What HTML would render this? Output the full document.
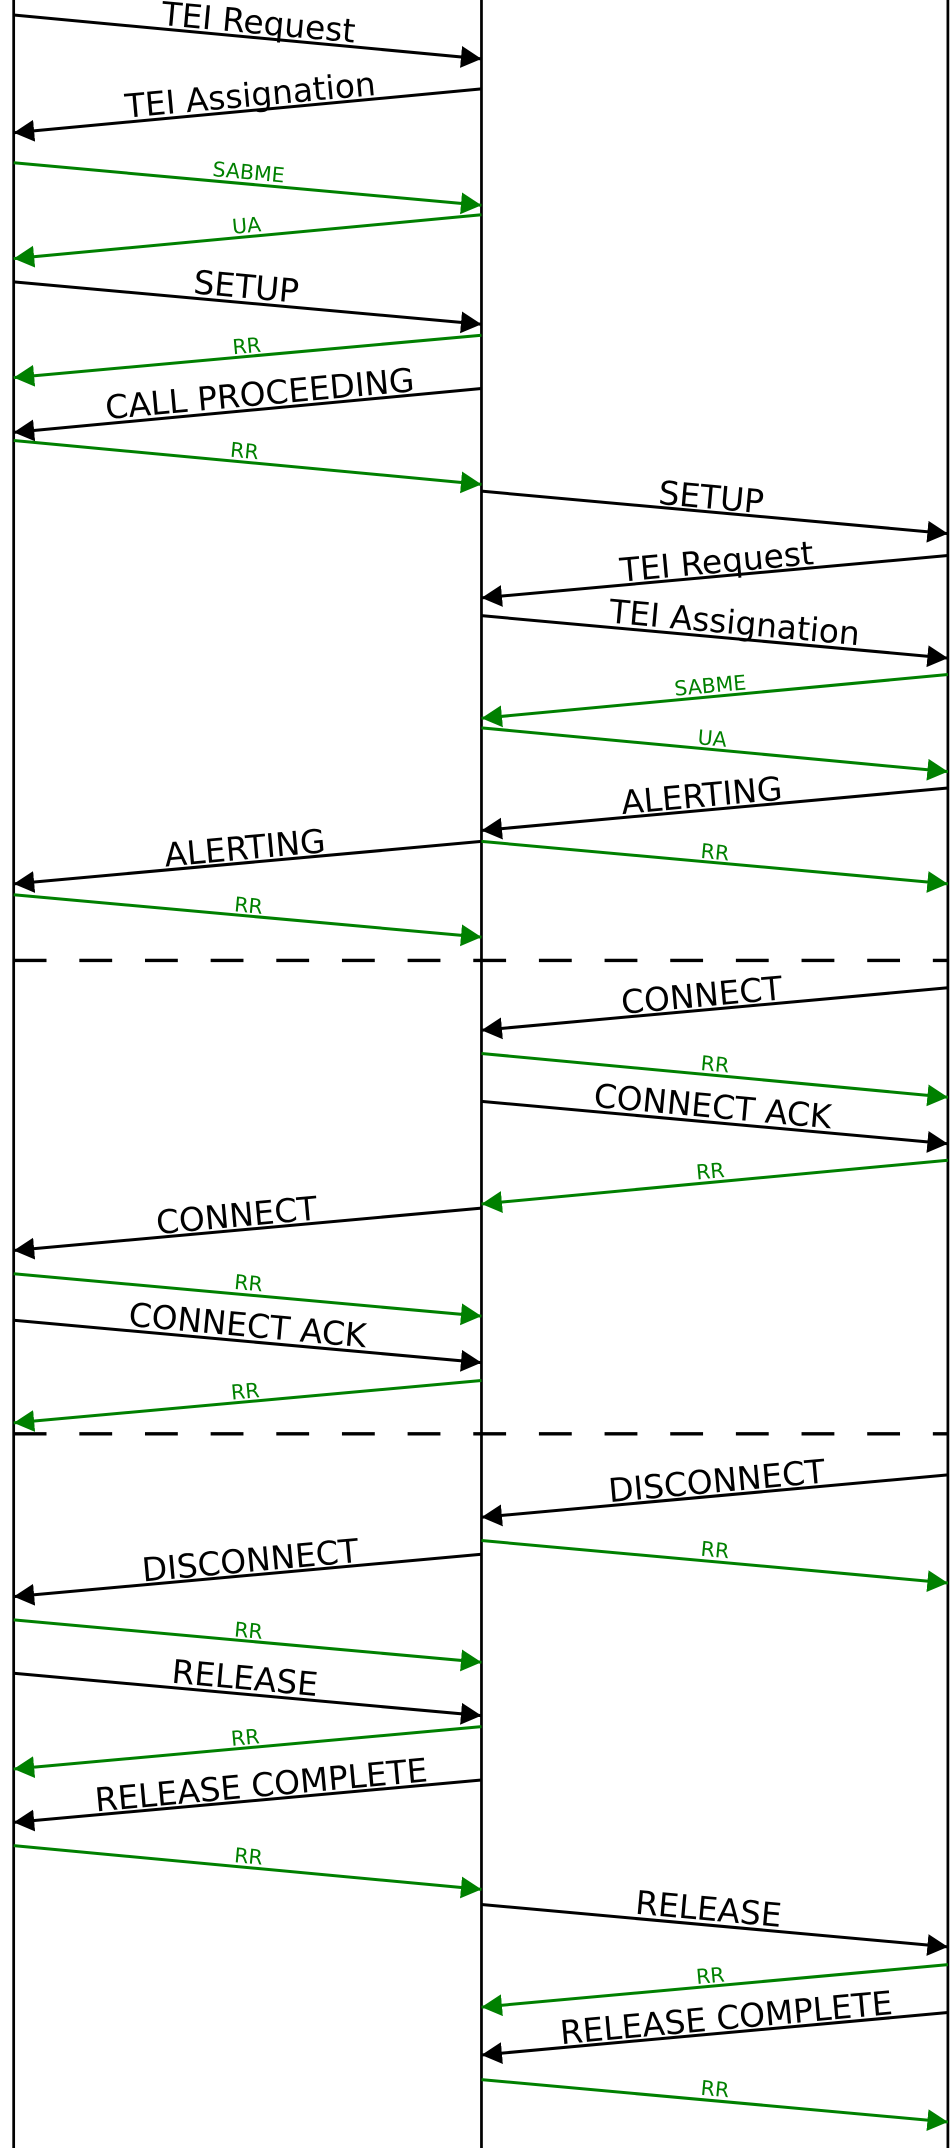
<!DOCTYPE html>
<html><head><meta charset="utf-8"><style>
html,body{margin:0;padding:0;background:#fff;}
svg{display:block;}
text{font-family:"DejaVu Sans","Liberation Sans",sans-serif;text-anchor:middle;}
.b{font-size:24px;fill:#000;}
.g{font-size:15px;fill:#008000;}
.lb{stroke:#000;stroke-width:2.2;fill:none;}
.lg{stroke:#008000;stroke-width:2.2;fill:none;}
</style></head><body>
<svg width="952" height="2148" viewBox="0 0 696 1570" preserveAspectRatio="none" xmlns="http://www.w3.org/2000/svg">
<defs>
<marker id="ab" markerUnits="userSpaceOnUse" markerWidth="16" markerHeight="18" refX="15" refY="8" orient="auto"><path d="M0,0 L15,8 L0,16 Z" fill="#000"/></marker>
<marker id="ag" markerUnits="userSpaceOnUse" markerWidth="16" markerHeight="18" refX="15" refY="8" orient="auto"><path d="M0,0 L15,8 L0,16 Z" fill="#008000"/></marker>
</defs>
<line x1="10" y1="0" x2="10" y2="1570" stroke="#000" stroke-width="2"/>
<line x1="352" y1="0" x2="352" y2="1570" stroke="#000" stroke-width="2"/>
<line x1="693" y1="0" x2="693" y2="1570" stroke="#000" stroke-width="2"/>
<line x1="10" y1="702" x2="693" y2="702" stroke="#000" stroke-width="2.4" stroke-dasharray="24,24"/>
<line x1="10" y1="1048" x2="693" y2="1048" stroke="#000" stroke-width="2.4" stroke-dasharray="24,24"/>

<line class="lb" x1="10" y1="11" x2="352" y2="43" marker-end="url(#ab)"/>
<text class="b" x="188" y="24" transform="rotate(5.2 181 27)">TEI Request</text>
<line class="lb" x1="352" y1="65" x2="10" y2="97" marker-end="url(#ab)"/>
<text class="b" x="184" y="78" transform="rotate(-5.2 181 81)">TEI Assignation</text>
<line class="lg" x1="10" y1="119" x2="352" y2="150" marker-end="url(#ag)"/>
<text class="g" x="181" y="131" transform="rotate(5.2 181 134)">SABME</text>
<line class="lg" x1="352" y1="157" x2="10" y2="189" marker-end="url(#ag)"/>
<text class="g" x="181" y="170" transform="rotate(-5.2 181 173)">UA</text>
<line class="lb" x1="10" y1="206" x2="352" y2="237" marker-end="url(#ab)"/>
<text class="b" x="179" y="218" transform="rotate(5.2 181 221)">SETUP</text>
<line class="lg" x1="352" y1="245" x2="10" y2="276" marker-end="url(#ag)"/>
<text class="g" x="181" y="258" transform="rotate(-5.2 181 260)">RR</text>
<line class="lb" x1="352" y1="284" x2="10" y2="316" marker-end="url(#ab)"/>
<text class="b" x="191" y="297" transform="rotate(-5.2 181 300)">CALL PROCEEDING</text>
<line class="lg" x1="10" y1="322" x2="352" y2="354" marker-end="url(#ag)"/>
<text class="g" x="178" y="335" transform="rotate(5.2 181 338)">RR</text>
<line class="lb" x1="352" y1="359" x2="693" y2="390" marker-end="url(#ab)"/>
<text class="b" x="519" y="372" transform="rotate(5.2 522 375)">SETUP</text>
<line class="lb" x1="693" y1="406" x2="352" y2="437" marker-end="url(#ab)"/>
<text class="b" x="525" y="419" transform="rotate(-5.2 522 422)">TEI Request</text>
<line class="lb" x1="352" y1="450" x2="693" y2="481" marker-end="url(#ab)"/>
<text class="b" x="536" y="462" transform="rotate(5.2 522 466)">TEI Assignation</text>
<line class="lg" x1="693" y1="493" x2="352" y2="525" marker-end="url(#ag)"/>
<text class="g" x="520" y="506" transform="rotate(-5.2 522 509)">SABME</text>
<line class="lg" x1="352" y1="532" x2="693" y2="564" marker-end="url(#ag)"/>
<text class="g" x="520" y="545" transform="rotate(5.2 522 548)">UA</text>
<line class="lb" x1="693" y1="576" x2="352" y2="607" marker-end="url(#ab)"/>
<text class="b" x="514" y="589" transform="rotate(-5.2 522 592)">ALERTING</text>
<line class="lb" x1="352" y1="615" x2="10" y2="646" marker-end="url(#ab)"/>
<text class="b" x="180" y="628" transform="rotate(-5.2 181 631)">ALERTING</text>
<line class="lg" x1="352" y1="615" x2="693" y2="646" marker-end="url(#ag)"/>
<text class="g" x="522" y="628" transform="rotate(5.2 522 631)">RR</text>
<line class="lg" x1="10" y1="654" x2="352" y2="685" marker-end="url(#ag)"/>
<text class="g" x="181" y="667" transform="rotate(5.2 181 670)">RR</text>

<line class="lb" x1="693" y1="722" x2="352" y2="753" marker-end="url(#ab)"/>
<text class="b" x="514" y="735" transform="rotate(-5.2 522 738)">CONNECT</text>
<line class="lg" x1="352" y1="770" x2="693" y2="802" marker-end="url(#ag)"/>
<text class="g" x="522" y="783" transform="rotate(5.2 522 786)">RR</text>
<line class="lb" x1="352" y1="805" x2="693" y2="836" marker-end="url(#ab)"/>
<text class="b" x="520" y="817" transform="rotate(5.2 522 820)">CONNECT ACK</text>
<line class="lg" x1="693" y1="848" x2="352" y2="880" marker-end="url(#ag)"/>
<text class="g" x="520" y="861" transform="rotate(-5.2 522 864)">RR</text>
<line class="lb" x1="352" y1="883" x2="10" y2="914" marker-end="url(#ab)"/>
<text class="b" x="174" y="896" transform="rotate(-5.2 181 899)">CONNECT</text>
<line class="lg" x1="10" y1="931" x2="352" y2="962" marker-end="url(#ag)"/>
<text class="g" x="181" y="943" transform="rotate(5.2 181 946)">RR</text>
<line class="lb" x1="10" y1="965" x2="352" y2="996" marker-end="url(#ab)"/>
<text class="b" x="180" y="977" transform="rotate(5.2 181 980)">CONNECT ACK</text>
<line class="lg" x1="352" y1="1009" x2="10" y2="1040" marker-end="url(#ag)"/>
<text class="g" x="180" y="1022" transform="rotate(-5.2 181 1025)">RR</text>

<line class="lb" x1="693" y1="1078" x2="352" y2="1109" marker-end="url(#ab)"/>
<text class="b" x="525" y="1091" transform="rotate(-5.2 522 1094)">DISCONNECT</text>
<line class="lg" x1="352" y1="1126" x2="693" y2="1157" marker-end="url(#ag)"/>
<text class="g" x="522" y="1138" transform="rotate(5.2 522 1141)">RR</text>
<line class="lb" x1="352" y1="1136" x2="10" y2="1167" marker-end="url(#ab)"/>
<text class="b" x="184" y="1149" transform="rotate(-5.2 181 1152)">DISCONNECT</text>
<line class="lg" x1="10" y1="1184" x2="352" y2="1215" marker-end="url(#ag)"/>
<text class="g" x="181" y="1197" transform="rotate(5.2 181 1200)">RR</text>
<line class="lb" x1="10" y1="1223" x2="352" y2="1254" marker-end="url(#ab)"/>
<text class="b" x="178" y="1235" transform="rotate(5.2 181 1238)">RELEASE</text>
<line class="lg" x1="352" y1="1262" x2="10" y2="1293" marker-end="url(#ag)"/>
<text class="g" x="180" y="1275" transform="rotate(-5.2 181 1278)">RR</text>
<line class="lb" x1="352" y1="1301" x2="10" y2="1332" marker-end="url(#ab)"/>
<text class="b" x="192" y="1314" transform="rotate(-5.2 181 1317)">RELEASE COMPLETE</text>
<line class="lg" x1="10" y1="1349" x2="352" y2="1381" marker-end="url(#ag)"/>
<text class="g" x="181" y="1362" transform="rotate(5.2 181 1365)">RR</text>
<line class="lb" x1="352" y1="1392" x2="693" y2="1423" marker-end="url(#ab)"/>
<text class="b" x="517" y="1404" transform="rotate(5.2 522 1407)">RELEASE</text>
<line class="lg" x1="693" y1="1436" x2="352" y2="1467" marker-end="url(#ag)"/>
<text class="g" x="520" y="1449" transform="rotate(-5.2 522 1452)">RR</text>
<line class="lb" x1="693" y1="1471" x2="352" y2="1502" marker-end="url(#ab)"/>
<text class="b" x="532" y="1484" transform="rotate(-5.2 522 1487)">RELEASE COMPLETE</text>
<line class="lg" x1="352" y1="1520" x2="693" y2="1551" marker-end="url(#ag)"/>
<text class="g" x="522" y="1532" transform="rotate(5.2 522 1535)">RR</text>
</svg>
</body></html>
